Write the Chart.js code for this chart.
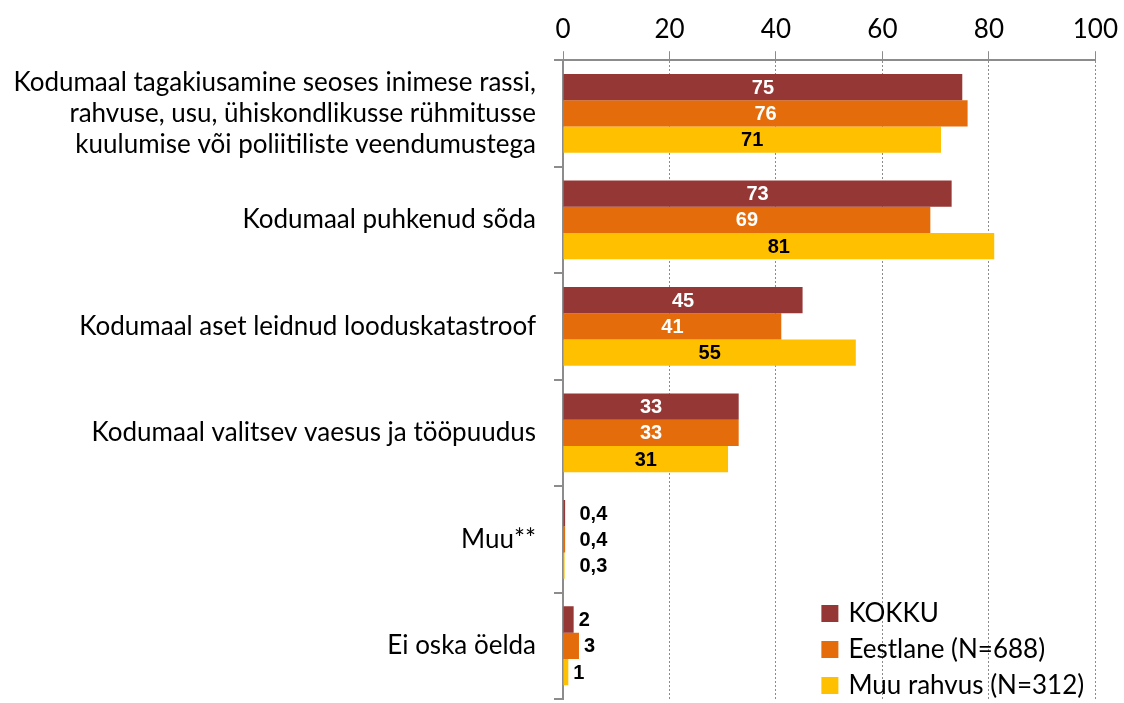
<!DOCTYPE html>
<html>
<head>
<meta charset="utf-8">
<script src="https://cdn.jsdelivr.net/npm/chart.js@4/dist/chart.umd.min.js"></script>
<style>
  html, body { margin: 0; padding: 0; background: #fff; }
  #wrap { width: 1124px; height: 703px; position: relative; }
</style>
</head>
<body>
<div id="wrap"><canvas id="chart"></canvas></div>
<script>
// Categories and series
const categories = [
    ['Kodumaal tagakiusamine seoses inimese rassi,', 'rahvuse, usu, ühiskondlikusse rühmitusse', 'kuulumise või poliitiliste veendumustega'],
    'Kodumaal puhkenud sõda',
    'Kodumaal aset leidnud looduskatastroof',
    'Kodumaal valitsev vaesus ja tööpuudus',
    'Muu**',
    'Ei oska öelda'
];
const kokku = [75, 73, 45, 33, 0.4, 2];
const eestlane = [76, 69, 41, 33, 0.4, 3];
const muuRahvus = [71, 81, 55, 31, 0.3, 1];
const seriesNames = ['KOKKU', 'Eestlane (N=688)', 'Muu rahvus (N=312)'];
const seriesColors = ['#953735', '#E46C0A', '#FFC000'];
const labelColors = ['#ffffff', '#ffffff', '#000000'];
const xTicks = [0, 20, 40, 60, 80, 100];

const textFont = 'Lato, "Open Sans", sans-serif';

function fmt(v) {
    if (v < 1) return v.toFixed(1).replace('.', ',');
    return String(Math.round(v));
}

// value labels drawn on/after bars
const valueLabels = {
    id: 'valueLabels',
    afterDatasetsDraw(chart) {
        const ctx = chart.ctx;
        ctx.save();
        ctx.font = 'bold 20px "Liberation Sans", Arial, sans-serif';
        ctx.textBaseline = 'middle';
        chart.data.datasets.forEach((ds, di) => {
            const meta = chart.getDatasetMeta(di);
            meta.data.forEach((bar, i) => {
                const v = ds.data[i];
                if (v >= 5) {
                    ctx.fillStyle = labelColors[di];
                    ctx.textAlign = 'center';
                    ctx.fillText(fmt(v), (bar.x + bar.base) / 2, bar.y + 1);
                } else {
                    ctx.fillStyle = '#000';
                    ctx.textAlign = 'left';
                    const x = v < 1 ? bar.base + 16 : bar.x + 5;
                    ctx.fillText(fmt(v), x, bar.y + 1);
                }
            });
        });
        ctx.restore();
    }
};

// legend inside the plot, bottom right
const boxLegend = {
    id: 'boxLegend',
    afterDraw(chart) {
        const ctx = chart.ctx;
        const area = chart.chartArea;
        const x = area.right - 274;
        ctx.save();
        ctx.font = '26px ' + textFont;
        ctx.textBaseline = 'middle';
        ctx.textAlign = 'left';
        seriesNames.forEach((name, i) => {
            const y = area.bottom - 86 + i * 36;
            ctx.fillStyle = seriesColors[i];
            ctx.fillRect(x, y - 8, 17, 17);
            ctx.fillStyle = '#000';
            ctx.fillText(name, x + 27, y + 1);
        });
        ctx.restore();
    }
};

const ctx = document.getElementById('chart').getContext('2d');
new Chart(ctx, {
    type: 'bar',
    data: {
        labels: categories,
        datasets: [kokku, eestlane, muuRahvus].map((d, i) => ({
            label: seriesNames[i],
            data: d,
            backgroundColor: seriesColors[i],
            borderWidth: 0,
            categoryPercentage: 0.74,
            barPercentage: 1.0
        }))
    },
    options: {
        indexAxis: 'y',
        responsive: true,
        maintainAspectRatio: false,
        animation: false,
        layout: { padding: { left: 0, right: 23, top: 8, bottom: 4 } },
        plugins: {
            legend: { display: false },
            tooltip: { enabled: false }
        },
        scales: {
            x: {
                position: 'top',
                min: 0,
                max: 100,
                afterBuildTicks(scale) {
                    scale.ticks = xTicks.map(v => ({ value: v }));
                },
                ticks: {
                    font: { family: textFont, size: 26 },
                    color: '#000',
                    padding: 6
                },
                grid: {
                    color: '#8c8c8c',
                    lineWidth: 1,
                    tickLength: 9,
                    tickBorderDash: [],
                    drawTicks: true
                },
                border: { color: '#8c8c8c', width: 2, dash: [2, 2] }
            },
            y: {
                afterFit(scale) {
                    scale.width = 563;
                    scale.paddingTop = 0;
                    scale.paddingBottom = 0;
                },
                ticks: {
                    font: { family: textFont, size: 26 },
                    color: '#000',
                    padding: 18,
                    lineHeight: 1.2
                },
                grid: {
                    drawOnChartArea: false,
                    drawTicks: true,
                    tickLength: 9,
                    color: '#8c8c8c',
                    lineWidth: 2,
                    offset: true
                },
                border: { color: '#8c8c8c', width: 2 }
            }
        }
    },
    plugins: [valueLabels, boxLegend]
});
</script>
</body>
</html>
